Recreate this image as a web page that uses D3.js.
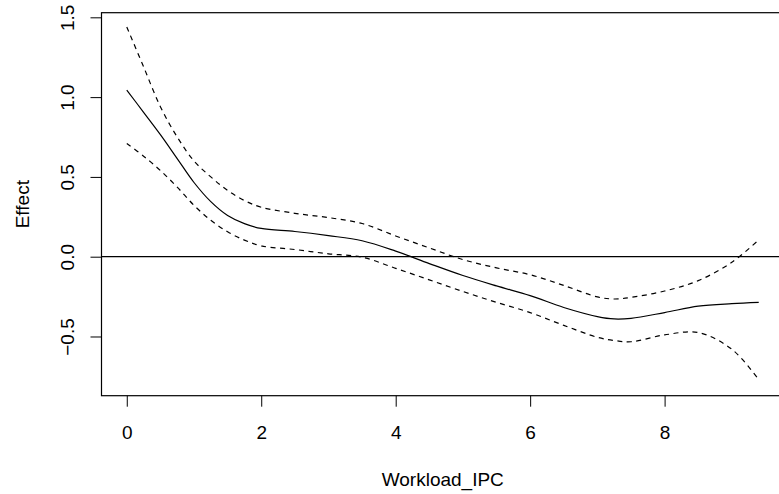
<!DOCTYPE html>
<html>
<head>
<meta charset="utf-8">
<script src="https://d3js.org/d3.v7.min.js"></script>
<style>
  body { margin: 0; background: white; }
  svg { display: block; }
  text { font-family: "Liberation Sans", Arial, Helvetica, sans-serif; font-size: 19px; fill: #000; }
</style>
</head>
<body>
<script>
    var svgWidth = 779;
    var svgHeight = 494;

    var xs = [0, 0.25, 0.5, 0.75, 1, 1.25, 1.5, 1.75, 2, 2.5, 3, 3.5, 4, 4.5, 5, 5.5, 6, 6.5, 7, 7.25, 7.5, 8, 8.5, 9, 9.4];
    // fitted effect
    var fit = [1.044, 0.905, 0.765, 0.615, 0.465, 0.345, 0.258, 0.207, 0.177, 0.158, 0.132, 0.100, 0.035, -0.043, -0.118, -0.183, -0.244, -0.318, -0.375, -0.390, -0.386, -0.350, -0.310, -0.294, -0.286];
    // upper / lower confidence bands
    var upper = [1.44, 1.19, 0.94, 0.75, 0.60, 0.50, 0.415, 0.352, 0.31, 0.272, 0.245, 0.208, 0.13, 0.055, -0.018, -0.07, -0.113, -0.18, -0.252, -0.265, -0.255, -0.215, -0.15, -0.035, 0.105];
    var lower = [0.71, 0.63, 0.54, 0.436, 0.322, 0.228, 0.156, 0.104, 0.068, 0.045, 0.018, -0.003, -0.073, -0.145, -0.218, -0.286, -0.35, -0.43, -0.505, -0.525, -0.533, -0.49, -0.475, -0.58, -0.77];

    var xTicks = [0, 2, 4, 6, 8];
    var yTicks = [-0.5, 0, 0.5, 1.0, 1.5];

    var box = {left: 101.5, right: 784, top: 12.7, bottom: 395.7};

    var svg = d3.select("body")
        .append("svg")
        .attr("width", svgWidth)
        .attr("height", svgHeight);

    var x = d3.scaleLinear().domain([-0.376, 9.776]).range([box.left, box.right]);
    var y = d3.scaleLinear().domain([-0.871, 1.529]).range([box.bottom, box.top]);

    // x axis
    var xAxis = svg.append("g")
        .attr("transform", "translate(0," + box.bottom + ")")
        .call(d3.axisBottom(x).tickValues(xTicks).tickSize(11).tickFormat(d3.format("d")));
    xAxis.select(".domain").remove();
    xAxis.selectAll("line").attr("stroke", "#000").attr("stroke-width", 1);
    xAxis.selectAll("text")
        .attr("y", 43)
        .attr("dy", null)
        .attr("font-size", null)
        .attr("font-family", null);

    // y axis, labels rotated like base R
    var yAxis = svg.append("g")
        .attr("transform", "translate(" + box.left + ",0)")
        .call(d3.axisLeft(y).tickValues(yTicks).tickSize(11).tickFormat(d3.format(".1f")));
    yAxis.select(".domain").remove();
    yAxis.selectAll("line").attr("stroke", "#000").attr("stroke-width", 1);
    yAxis.selectAll("text")
        .attr("x", null)
        .attr("dy", null)
        .attr("text-anchor", "middle")
        .attr("transform", "translate(-27.5,0) rotate(-90)")
        .attr("font-size", null)
        .attr("font-family", null)
        .text(function(d) { return d < 0 ? "\u2212" + Math.abs(d).toFixed(1) : d.toFixed(1); });

    // clip to the plot box
    svg.append("clipPath").attr("id", "plotclip")
        .append("rect")
        .attr("x", box.left)
        .attr("y", box.top)
        .attr("width", box.right - box.left)
        .attr("height", box.bottom - box.top);

    var plot = svg.append("g").attr("clip-path", "url(#plotclip)");

    // zero reference line
    plot.append("line")
        .attr("x1", box.left)
        .attr("x2", box.right)
        .attr("y1", y(0))
        .attr("y2", y(0))
        .attr("stroke", "#000")
        .attr("stroke-width", 1.2);

    var lineGen = function(vals) {
        return d3.line()
            .x(function(d, i) { return x(xs[i]); })
            .y(function(d) { return y(d); })
            .curve(d3.curveCatmullRom)(vals);
    };

    plot.append("path")
        .attr("d", lineGen(fit))
        .attr("fill", "none")
        .attr("stroke", "#000")
        .attr("stroke-width", 1.2);

    [upper, lower].forEach(function(band) {
        plot.append("path")
            .attr("d", lineGen(band))
            .attr("fill", "none")
            .attr("stroke", "#000")
            .attr("stroke-width", 1.2)
            .attr("stroke-dasharray", "5,4.5");
    });

    // plot box
    svg.append("rect")
        .attr("x", box.left)
        .attr("y", box.top)
        .attr("width", box.right - box.left)
        .attr("height", box.bottom - box.top)
        .attr("fill", "none")
        .attr("stroke", "#000")
        .attr("stroke-width", 1.2);

    // axis titles
    svg.append("text")
        .attr("x", (box.left + box.right) / 2)
        .attr("y", 485.5)
        .attr("text-anchor", "middle")
        .text("Workload_IPC");

    svg.append("text")
        .attr("transform", "translate(28.5," + ((box.top + box.bottom) / 2) + ") rotate(-90)")
        .attr("text-anchor", "middle")
        .text("Effect");
</script>
</body>
</html>
